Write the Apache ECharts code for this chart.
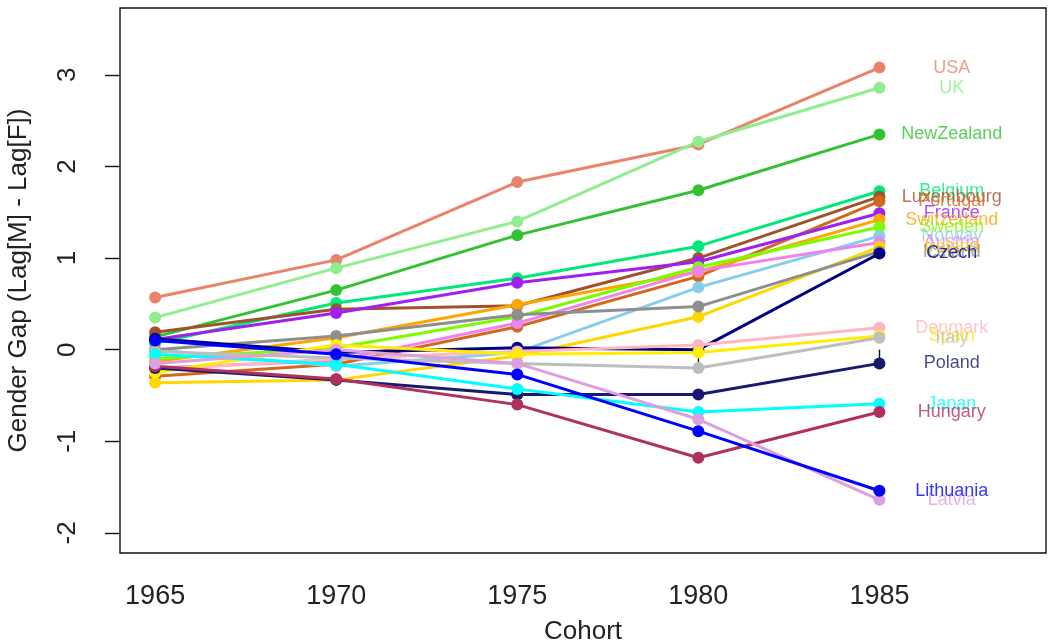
<!DOCTYPE html>
<html>
<head>
<meta charset="utf-8">
<script src="https://cdn.jsdelivr.net/npm/echarts@6/dist/echarts.min.js"></script>
<style>
  html, body { margin: 0; padding: 0; background: #fff; }
  #panel { width: 1061px; height: 642px; }
</style>
</head>
<body>
<div id="panel"></div>
<script>
/** cohorts on the x axis */
var years = [1965, 1970, 1975, 1980, 1985];
var yTicks = [-2, -1, 0, 1, 2, 3];

/** gender gap per country, one value per cohort */
var USA         = [0.57, 0.98, 1.83, 2.24, 3.08];
var UK          = [0.35, 0.89, 1.40, 2.27, 2.86];
var NewZealand  = [0.14, 0.65, 1.25, 1.74, 2.35];
var Belgium     = [0.07, 0.51, 0.78, 1.13, 1.73];
var Luxembourg  = [0.19, 0.44, 0.48, 1.00, 1.67];
var Portugal    = [-0.29, -0.16, 0.25, 0.80, 1.62];
var France      = [0.11, 0.40, 0.73, 0.96, 1.49];
var Switzerland = [-0.13, 0.13, 0.49, 0.85, 1.42];
var Sweden      = [-0.10, 0.02, 0.36, 0.90, 1.34];
var Norway      = [0.00, -0.18, -0.03, 0.68, 1.24];
var Austria     = [-0.20, -0.12, 0.29, 0.86, 1.17];
var Ireland     = [-0.36, -0.33, -0.07, 0.36, 1.12];
var Iceland     = [0.00, 0.15, 0.38, 0.47, 1.07];
var Czech       = [0.12, -0.03, 0.02, 0.00, 1.05];
var Denmark     = [-0.22, -0.10, -0.02, 0.05, 0.24];
var Spain       = [-0.25, 0.05, -0.05, -0.03, 0.15];
var Italy       = [-0.02, -0.09, -0.15, -0.20, 0.13];
var Poland      = [-0.20, -0.33, -0.49, -0.49, -0.15];
var Japan       = [-0.05, -0.16, -0.43, -0.68, -0.59];
var Hungary     = [-0.18, -0.32, -0.60, -1.18, -0.68];
var Lithuania   = [0.10, -0.05, -0.27, -0.89, -1.54];
var Latvia      = [-0.15, 0.00, -0.15, -0.76, -1.64];

var countries = ['USA', 'UK', 'NewZealand', 'Belgium', 'Luxembourg', 'Portugal', 'France',
  'Switzerland', 'Sweden', 'Norway', 'Austria', 'Ireland', 'Iceland', 'Czech', 'Denmark',
  'Spain', 'Italy', 'Poland', 'Japan', 'Hungary', 'Latvia', 'Lithuania'];
var values = [USA, UK, NewZealand, Belgium, Luxembourg, Portugal, France,
  Switzerland, Sweden, Norway, Austria, Ireland, Iceland, Czech, Denmark,
  Spain, Italy, Poland, Japan, Hungary, Latvia, Lithuania];
var colors = ['#E9846A', '#90EE90', '#33C233', '#00E87A', '#A0522D', '#D2691E', '#A020F0',
  '#FFA500', '#7CFC00', '#87CEEB', '#EE82EE', '#FFD700', '#8E8E8E', '#000080', '#FFB6C1',
  '#FFEE00', '#BEBEBE', '#191970', '#00FFFF', '#B03060', '#DDA0DD', '#0000FF'];

/** label column sits a little right of the last cohort */
var labelYear = 1987;

chartDom = document.getElementById('panel');
myChart = echarts.init(chartDom);

var series = countries.map(function (name, i) {
  return {
    name: name,
    type: 'line',
    data: years.map(function (y, j) { return [y, values[i][j]]; }),
    symbol: 'circle',
    symbolSize: 12,
    color: colors[i],
    lineStyle: { width: 3, color: colors[i] },
    itemStyle: { color: colors[i] },
    animation: false,
    z: 2
  };
});

// country names next to the 1985 point
series.push({
  type: 'scatter',
  symbolSize: 0,
  animation: false,
  z: 3,
  data: countries.map(function (name, i) {
    return {
      name: name,
      value: [labelYear, values[i][values[i].length - 1]],
      label: { color: colors[i] }
    };
  }),
  label: {
    show: true,
    position: 'inside',
    formatter: '{b}',
    fontFamily: 'Liberation Sans, Arial',
    fontSize: 18
  }
});

var axisText = { fontFamily: 'Liberation Sans, Arial', fontSize: 26, color: '#222' };

option = {
  backgroundColor: '#fff',
  grid: {
    left: 120, right: 15, top: 8, bottom: 89,
    outerBoundsMode: 'none',
    containLabel: false,
    show: true, borderColor: '#111', borderWidth: 1.4
  },
  xAxis: {
    type: 'value',
    min: 1964.03,
    max: 1989.6,
    name: 'Cohort',
    nameLocation: 'middle',
    nameGap: 66,
    nameTextStyle: axisText,
    axisLine: { show: false },
    splitLine: { show: false },
    axisTick: { show: true, inside: false, length: 13, customValues: years, lineStyle: { color: '#111', width: 1.4 } },
    axisLabel: {
      customValues: years, margin: 30, fontFamily: axisText.fontFamily, fontSize: 27, color: '#222',
      formatter: function (v) { return String(v); }
    }
  },
  yAxis: {
    type: 'value',
    min: -2.22,
    max: 3.73,
    name: 'Gender Gap (Lag[M] - Lag[F])',
    nameLocation: 'middle',
    nameRotate: 90,
    nameGap: 88,
    nameTextStyle: axisText,
    axisLine: { show: false },
    splitLine: { show: false },
    axisTick: { show: true, inside: false, length: 15, customValues: yTicks, lineStyle: { color: '#111', width: 1.4 } },
    axisLabel: { customValues: yTicks, rotate: 90, margin: 39, fontFamily: axisText.fontFamily, fontSize: 26, color: '#222' }
  },
  series: series
};

myChart.setOption(option);
</script>
</body>
</html>
